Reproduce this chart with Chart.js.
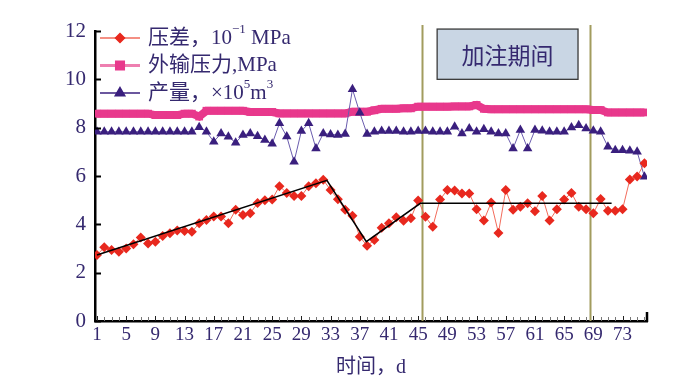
<!DOCTYPE html>
<html><head><meta charset="utf-8">
<script src="https://cdn.jsdelivr.net/npm/chart.js@4"></script>
<style>html,body{margin:0;padding:0;background:#fff}#wrap{width:683px;height:382px;position:relative}</style>
</head><body><div id="wrap"><canvas id="c" width="683" height="382"></canvas></div>
<script>
// ---- data ----
const days = [1,2,3,4,5,6,7,8,9,10,11,12,13,14,15,16,17,18,19,20,21,22,23,24,25,26,27,28,29,30,31,32,33,34,35,36,37,38,39,40,41,42,43,44,45,46,47,48,49,50,51,52,53,54,55,56,57,58,59,60,61,62,63,64,65,66,67,68,69,70,71,72,73,74,75,76];
const xTickLabels = [1,5,9,13,17,21,25,29,33,37,41,45,49,53,57,61,65,69,73];
const yTickValues = [0,2,4,6,8,10,12];

// 压差, 10^-1 MPa
const pressureDiff = [2.73,3.05,2.94,2.87,3.00,3.18,3.46,3.21,3.28,3.52,3.63,3.74,3.72,3.69,4.04,4.18,4.32,4.32,4.05,4.60,
  4.39,4.46,4.88,5.00,5.03,5.58,5.30,5.17,5.17,5.58,5.70,5.84,5.42,5.04,4.60,4.36,3.49,3.11,3.35,3.86,
  4.05,4.29,4.15,4.25,4.99,4.31,3.90,5.03,5.42,5.40,5.28,5.28,4.62,4.16,4.90,3.64,5.42,4.60,4.73,4.87,
  4.54,5.17,4.16,4.62,5.03,5.30,4.73,4.62,4.46,5.05,4.56,4.56,4.62,5.86,5.98,6.53];
// 外输压力, MPa
const exportPressure = [8.58,8.58,8.58,8.58,8.58,8.58,8.58,8.58,8.52,8.52,8.52,8.52,8.58,8.58,8.46,8.70,8.70,8.70,8.70,8.70,
  8.70,8.65,8.65,8.65,8.65,8.59,8.59,8.59,8.59,8.59,8.59,8.59,8.59,8.59,8.59,8.66,8.66,8.66,8.72,8.78,
  8.78,8.78,8.80,8.80,8.87,8.87,8.87,8.87,8.87,8.88,8.88,8.88,8.94,8.78,8.76,8.76,8.76,8.76,8.76,8.76,
  8.76,8.76,8.76,8.76,8.76,8.76,8.76,8.76,8.73,8.73,8.63,8.63,8.63,8.63,8.63,8.63];
// 产量, x10^5 m^3
const production = [7.83,7.83,7.83,7.83,7.83,7.83,7.83,7.83,7.83,7.83,7.83,7.83,7.83,7.83,8.02,7.83,7.42,7.76,7.62,7.38,
  7.70,7.76,7.65,7.49,7.33,8.18,7.63,6.59,7.86,8.18,7.14,7.76,7.72,7.70,7.74,9.59,8.62,7.74,7.83,7.86,
  7.86,7.86,7.83,7.83,7.86,7.86,7.83,7.83,7.83,8.04,7.76,7.97,7.83,7.93,7.83,7.76,7.76,7.14,7.90,7.14,
  7.90,7.87,7.83,7.83,7.83,8.01,8.10,7.97,7.87,7.83,7.21,7.07,7.07,7.05,7.00,5.97];
// black trend line
const fitX = [1, 32.5, 37.9, 45.3, 71.5];
const fitY = [2.73, 5.82, 3.28, 4.87, 4.87];
// vertical markers of the injection period
const markerDays = [45.5, 68.5];
const seriesNames = ['压差', '外输压力', '产量'];

const navy = '#35296f';
const pts = (xs, ys) => xs.map((x, i) => ({x: x, y: ys[i]}));

const overlay = {
  id: 'overlay',
  beforeDatasetsDraw(chart) {
    const {ctx, chartArea: a, scales: {x}} = chart;
    ctx.save();
    ctx.strokeStyle = '#a29c5e';
    ctx.lineWidth = 2;
    markerDays.forEach(d => {
      const px = Math.round(x.getPixelForValue(d)) + 0.5;
      ctx.beginPath(); ctx.moveTo(px, a.top - 6); ctx.lineTo(px, a.bottom); ctx.stroke();
    });
    ctx.restore();
  },
  afterDatasetsDraw(chart) {
    const {ctx, chartArea: a, scales: {x, y}} = chart;
    ctx.save();
    // inward ticks, y axis
    ctx.strokeStyle = '#000'; ctx.lineWidth = 2;
    yTickValues.forEach(v => {
      const py = Math.round(y.getPixelForValue(v)) + 0.5;
      ctx.beginPath(); ctx.moveTo(a.left, py); ctx.lineTo(a.left + 6, py); ctx.stroke();
    });
    // inward ticks, x axis
    days.forEach(d => {
      const px = Math.round(x.getPixelForValue(d)) + 0.5;
      const major = xTickLabels.includes(d);
      ctx.strokeStyle = major ? '#222' : '#777';
      ctx.lineWidth = 1;
      ctx.beginPath(); ctx.moveTo(px, a.bottom); ctx.lineTo(px, a.bottom - (major ? 5 : 4)); ctx.stroke();
    });
    ctx.strokeStyle = '#000'; ctx.lineWidth = 2.5;
    ctx.beginPath(); ctx.moveTo(a.right, a.bottom + 1); ctx.lineTo(a.right, a.bottom - 9); ctx.stroke();

    // injection period box
    const bx1 = x.getPixelForValue(47.6), bx2 = x.getPixelForValue(66.9);
    const by1 = y.getPixelForValue(12.08), by2 = y.getPixelForValue(10.0);
    ctx.fillStyle = '#c9d6e4';
    ctx.fillRect(bx1, by1, bx2 - bx1, by2 - by1);
    ctx.strokeStyle = '#3a3a3a'; ctx.lineWidth = 1.3;
    ctx.strokeRect(bx1, by1, bx2 - bx1, by2 - by1);
    ctx.fillStyle = navy;
    ctx.font = '23px "Noto Sans CJK SC"';
    ctx.textAlign = 'center'; ctx.textBaseline = 'middle';
    ctx.fillText('加注期间', (bx1 + bx2) / 2, (by1 + by2) / 2 + 1);

    // legend
    const rows = [
      {segs: [[seriesNames[0] + '，10', 0], ['−1', 1], [' MPa', 0]], line: '#f06a5a', lw: 1.5, mark: 'rectRot', mc: '#e8281e', r: 4.5},
      {segs: [[seriesNames[1] + ',MPa', 0]], line: '#ee7fb0', lw: 3, mark: 'rect', mc: '#e8388c', r: 5},
      {segs: [[seriesNames[2] + '，×10', 0], ['5', 1], ['m', 0], ['3', 1]], line: '#3a1f7e', lw: 1.5, mark: 'triangle', mc: '#3a1f7e', r: 5.5}
    ];
    const lx = a.left + 5, ly0 = 38, dy = 27.5;
    rows.forEach((row, i) => {
      const cy = ly0 + i * dy;
      ctx.strokeStyle = row.line; ctx.lineWidth = row.lw;
      ctx.beginPath(); ctx.moveTo(lx, cy); ctx.lineTo(lx + 40, cy); ctx.stroke();
      ctx.save();
      ctx.fillStyle = row.mc; ctx.strokeStyle = row.mc;
      Chart.helpers.drawPoint(ctx, {pointStyle: row.mark, radius: row.r, borderWidth: 1, rotation: 0}, lx + 20, cy);
      ctx.restore();
      let tx = lx + 48;
      ctx.textAlign = 'left'; ctx.textBaseline = 'middle'; ctx.fillStyle = navy;
      row.segs.forEach(([t, sup]) => {
        ctx.font = sup ? '13px "Liberation Serif","Noto Sans CJK SC"' : '21px "Liberation Serif","Noto Sans CJK SC"';
        ctx.fillText(t, tx, sup ? cy - 8 : cy);
        tx += ctx.measureText(t).width;
      });
    });
    ctx.restore();
  }
};

new Chart(document.getElementById('c'), {
  type: 'line',
  data: {datasets: [
    {label: seriesNames[0], data: pts(days, pressureDiff), borderColor: '#f26b5b', borderWidth: 1,
     pointStyle: 'rectRot', pointRadius: 5, pointBackgroundColor: '#e8281e', pointBorderColor: '#e8281e', pointBorderWidth: 0, order: 2},
    {label: seriesNames[1], data: pts(days, exportPressure), borderColor: '#e8388c', borderWidth: 8,
     pointStyle: 'rect', pointRadius: 5.5, pointBackgroundColor: '#e8388c', pointBorderColor: '#e8388c', pointBorderWidth: 0, order: 4},
    {label: seriesNames[2], data: pts(days, production), borderColor: '#6a5cae', borderWidth: 1,
     pointStyle: 'triangle', pointRadius: 5.5, pointBackgroundColor: '#3a1f7e', pointBorderColor: '#3a1f7e', pointBorderWidth: 0, order: 3},
    {label: 'trend', data: pts(fitX, fitY), borderColor: '#000', borderWidth: 1.6, pointRadius: 0, order: 1}
  ]},
  options: {
    responsive: false, animation: false, devicePixelRatio: 1,
    layout: {padding: {top: 31, right: 36, left: 0, bottom: 0}},
    plugins: {legend: {display: false}, tooltip: {enabled: false}},
    scales: {
      x: {type: 'linear', min: 0.73, max: 76.35,
        afterFit: s => { s.height = 61; },
        afterBuildTicks: s => { s.ticks = xTickLabels.map(v => ({value: v})); },
        ticks: {autoSkip: false, maxRotation: 0, padding: 3, color: navy, font: {family: '"Liberation Serif"', size: 19}},
        grid: {drawOnChartArea: false, drawTicks: false},
        border: {display: true, color: '#000', width: 2.5},
        title: {display: true, text: '时间，d', color: navy, font: {family: '"Liberation Serif","Noto Sans CJK SC"', size: 20}, padding: {top: 0, bottom: 2}}
      },
      y: {min: 0, max: 12,
        afterFit: s => { s.width = 95; },
        afterBuildTicks: s => { s.ticks = yTickValues.map(v => ({value: v})); },
        ticks: {padding: 9, color: navy, font: {family: '"Liberation Serif"', size: 21}},
        grid: {drawOnChartArea: false, drawTicks: false},
        border: {display: true, color: '#000', width: 2.5}
      }
    }
  },
  plugins: [overlay]
});
</script></body></html>
